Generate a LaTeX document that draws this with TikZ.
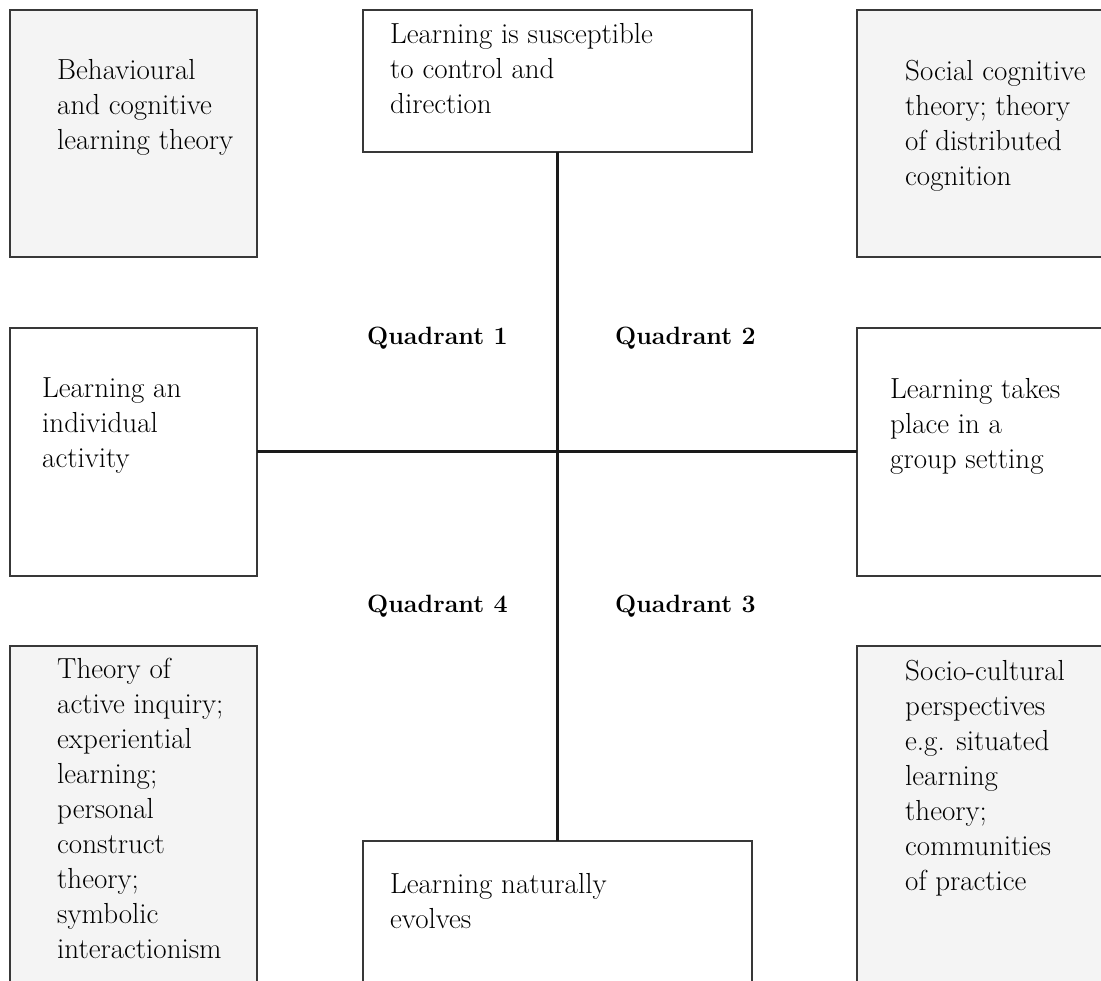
\documentclass[tikz,border=0pt]{standalone}
\definecolor{panelgray}{HTML}{F4F4F4}
\definecolor{boxline}{HTML}{383838}
\definecolor{axisline}{HTML}{1A1A1A}
\begin{document}
\begin{tikzpicture}[x=1pt,y=-1pt,
  panel/.style={draw=boxline, line width=2pt, anchor=north west,
                inner sep=0pt, outer sep=0pt},
  theory/.style={panel, fill=panelgray},
  stance/.style={panel, fill=white},
  label/.style={anchor=north west, inner sep=0pt, align=left,
                font=\fontsize{29}{35}\selectfont},
  quad/.style={anchor=base west, inner sep=0pt,
               font=\fontsize{25}{30}\selectfont\bfseries},
  axis/.style={draw=axisline, line width=3pt}]
\useasboundingbox (0,0) rectangle (1101,981);
\clip (0,0) rectangle (1101,981);

% theory panels in the corners
\node[theory, minimum width=247pt, minimum height=247pt] (tl) at (10,10) {};
\node[theory, minimum width=260pt, minimum height=247pt] (tr) at (857,10) {};
\node[theory, minimum width=247pt, minimum height=350pt] (bl) at (10,646) {};
\node[theory, minimum width=260pt, minimum height=350pt] (br) at (857,646) {};

% the four poles of the two axes
\node[stance, minimum width=389pt, minimum height=142pt] (top) at (363,10) {};
\node[stance, minimum width=389pt, minimum height=150pt] (bot) at (363,841) {};
\node[stance, minimum width=247pt, minimum height=248pt] (lft) at (10,328) {};
\node[stance, minimum width=260pt, minimum height=248pt] (rgt) at (857,328) {};

% axes
\draw[axis] (top.south) -- (bot.north);
\draw[axis] (lft.east) -- (rgt.west);

% panel texts (first baseline 24.5pt below the anchor)
\node[label] (tl-t) at (57,54.5) {\strut Behavioural\\and cognitive\\learning theory};
\node[label] (tr-t) at (905,55.5) {\strut Social cognitive\\theory; theory\\of distributed\\cognition};
\node[label] (bl-t) at (57,653.5) {\strut Theory of\\active inquiry;\\experiential\\learning;\\personal\\construct\\theory;\\symbolic\\interactionism};
\node[label] (br-t) at (905,655.5) {\strut Socio-cultural\\perspectives\\e.g. situated\\learning\\theory;\\communities\\of practice};
\node[label] (top-t) at (390,18.5) {\strut Learning is susceptible\\to control and\\direction};
\node[label] (bot-t) at (390,868.5) {\strut Learning naturally\\evolves};
\node[label] (lft-t) at (42,372.5) {\strut Learning an\\individual\\activity};
\node[label] (rgt-t) at (890,373.5) {\strut Learning takes\\place in a\\group setting};

% quadrant labels
\node[quad] (q1) at (367,345) {Quadrant 1};
\node[quad] (q2) at (615,345) {Quadrant 2};
\node[quad] (q4) at (367,612) {Quadrant 4};
\node[quad] (q3) at (615,612) {Quadrant 3};
\end{tikzpicture}
\end{document}
